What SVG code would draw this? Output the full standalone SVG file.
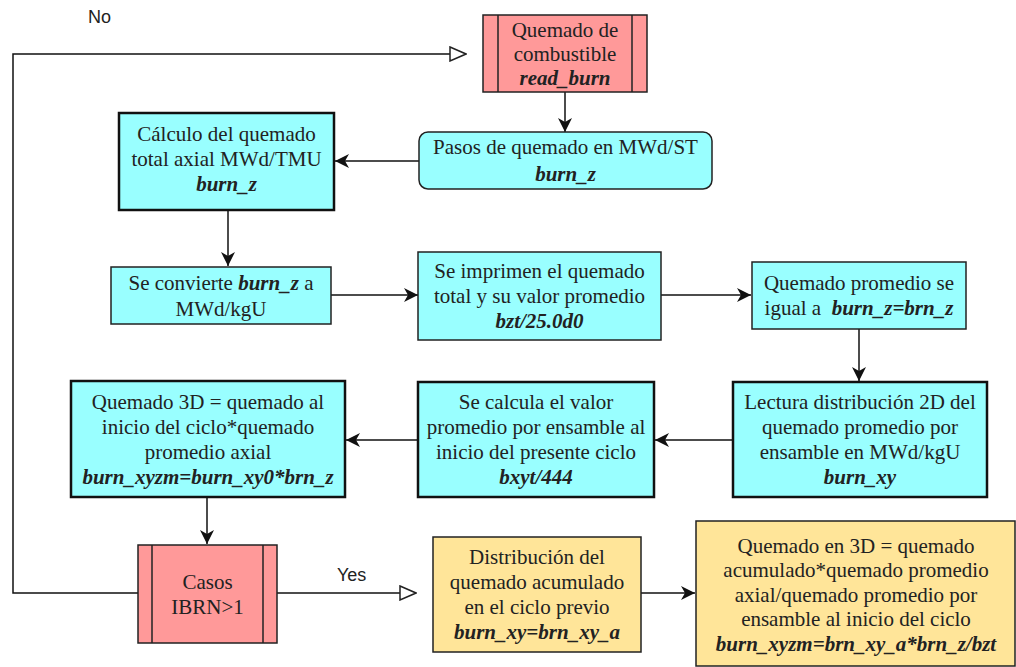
<svg xmlns="http://www.w3.org/2000/svg" width="1016" height="667" viewBox="0 0 1016 667">
<style>
.t{font-family:"Liberation Serif","Times New Roman",serif;font-size:21px;fill:#222;text-anchor:middle}
.b{font-weight:bold;font-style:italic}
.lbl{font-family:"Liberation Sans",Arial,sans-serif;font-size:18px;fill:#222}
.cy{fill:#99FFFF;stroke:#222;stroke-width:1.5}
.cyk{fill:#99FFFF;stroke:#111;stroke-width:2.5}
.pk{fill:#FF9999;stroke:#222;stroke-width:1.5}
.ye{fill:#FFE599;stroke:#222;stroke-width:1.5}
.ln{fill:none;stroke:#222;stroke-width:1.5}
.c{fill:none;stroke:#111;stroke-width:1.5}
</style>
<defs>
<marker id="arr" viewBox="0 0 14 14" refX="14" refY="7" markerWidth="14" markerHeight="14" markerUnits="userSpaceOnUse" orient="auto">
<path d="M0,0 L14,7 L0,14 L4,7 Z" fill="#111"/>
</marker>
<marker id="hol" viewBox="0 0 18 16" refX="17" refY="8" markerWidth="18" markerHeight="16" markerUnits="userSpaceOnUse" orient="auto">
<path d="M1,1 L17,8 L1,15 Z" fill="#fff" stroke="#222" stroke-width="1.5"/>
</marker>
</defs>

<g id="connectors">
<polyline class="c" points="138,593 13,593 13,54 466,54" marker-end="url(#hol)"/>
<line class="c" x1="565" y1="92" x2="565" y2="132" marker-end="url(#arr)"/>
<line class="c" x1="419" y1="161" x2="335" y2="161" marker-end="url(#arr)"/>
<line class="c" x1="228" y1="210" x2="228" y2="266" marker-end="url(#arr)"/>
<line class="c" x1="331" y1="295" x2="418" y2="295" marker-end="url(#arr)"/>
<line class="c" x1="661" y1="295" x2="751" y2="295" marker-end="url(#arr)"/>
<line class="c" x1="859" y1="329" x2="859" y2="381" marker-end="url(#arr)"/>
<line class="c" x1="733" y1="440" x2="655" y2="440" marker-end="url(#arr)"/>
<line class="c" x1="418" y1="440" x2="346" y2="440" marker-end="url(#arr)"/>
<line class="c" x1="207" y1="497" x2="207" y2="544" marker-end="url(#arr)"/>
<line class="c" x1="277" y1="593" x2="416" y2="593" marker-end="url(#hol)"/>
<line class="c" x1="641" y1="593" x2="695" y2="593" marker-end="url(#arr)"/>
<text class="lbl" x="88" y="23">No</text>
<text class="lbl" x="337" y="581">Yes</text>
</g>

<g id="n1">
<rect class="pk" x="483" y="15" width="164" height="77"/>
<line class="ln" x1="498" y1="15" x2="498" y2="92"/>
<line class="ln" x1="632" y1="15" x2="632" y2="92"/>
<text class="t" x="565" y="37">Quemado de</text>
<text class="t" x="565" y="61">combustible</text>
<text class="t b" x="565" y="85">read_burn</text>
</g>

<g id="n2">
<rect class="cy" x="419" y="132" width="293" height="57" rx="9"/>
<text class="t" x="565.5" y="154">Pasos de quemado en MWd/ST</text>
<text class="t b" x="565.5" y="181">burn_z</text>
</g>

<g id="n3">
<rect class="cyk" x="119" y="113" width="215" height="97"/>
<text class="t" x="226.5" y="141">Cálculo del quemado</text>
<text class="t" x="226.5" y="166">total axial MWd/TMU</text>
<text class="t b" x="226.5" y="191">burn_z</text>
</g>

<g id="n4">
<rect class="cy" x="111" y="267" width="220" height="57"/>
<text class="t" x="221" y="290">Se convierte <tspan class="b">burn_z</tspan> a</text>
<text class="t" x="221" y="316">MWd/kgU</text>
</g>

<g id="n5">
<rect class="cy" x="418" y="252" width="243" height="88"/>
<text class="t" x="539.5" y="278">Se imprimen el quemado</text>
<text class="t" x="539.5" y="303">total y su valor promedio</text>
<text class="t b" x="539.5" y="328">bzt/25.0d0</text>
</g>

<g id="n6">
<rect class="cy" x="752" y="262" width="214" height="67"/>
<text class="t" x="859" y="290">Quemado promedio se</text>
<text class="t" x="859" y="315">igual a&#160; <tspan class="b">burn_z=brn_z</tspan></text>
</g>

<g id="n7">
<rect class="cyk" x="733" y="382" width="254" height="115"/>
<text class="t" x="860" y="409">Lectura distribución 2D del</text>
<text class="t" x="860" y="434">quemado promedio por</text>
<text class="t" x="860" y="459">ensamble en MWd/kgU</text>
<text class="t b" x="860" y="484">burn_xy</text>
</g>

<g id="n8">
<rect class="cyk" x="418" y="382" width="236" height="115"/>
<text class="t" x="536" y="409">Se calcula el valor</text>
<text class="t" x="536" y="434">promedio por ensamble al</text>
<text class="t" x="536" y="459">inicio del presente ciclo</text>
<text class="t b" x="536" y="484">bxyt/444</text>
</g>

<g id="n9">
<rect class="cyk" x="71" y="381" width="274" height="116"/>
<text class="t" x="208" y="409">Quemado 3D = quemado al</text>
<text class="t" x="208" y="434">inicio del ciclo*quemado</text>
<text class="t" x="208" y="459">promedio axial</text>
<text class="t b" x="208" y="484">burn_xyzm=burn_xy0*brn_z</text>
</g>

<g id="n10">
<rect class="pk" x="138" y="545" width="139" height="98"/>
<line class="ln" x1="152" y1="545" x2="152" y2="643"/>
<line class="ln" x1="263" y1="545" x2="263" y2="643"/>
<text class="t" x="207.5" y="589">Casos</text>
<text class="t" x="207.5" y="614">IBRN&gt;1</text>
</g>

<g id="n11">
<rect class="ye" x="433" y="537" width="208" height="115"/>
<text class="t" x="537" y="564">Distribución del</text>
<text class="t" x="537" y="589">quemado acumulado</text>
<text class="t" x="537" y="614">en el ciclo previo</text>
<text class="t b" x="537" y="639">burn_xy=brn_xy_a</text>
</g>

<g id="n12">
<rect class="ye" x="696" y="521" width="319" height="145"/>
<text class="t" x="856" y="553">Quemado en 3D = quemado</text>
<text class="t" x="856" y="577">acumulado*quemado promedio</text>
<text class="t" x="856" y="602">axial/quemado promedio por</text>
<text class="t" x="856" y="626">ensamble al inicio del ciclo</text>
<text class="t b" x="856" y="651">burn_xyzm=brn_xy_a*brn_z/bzt</text>
</g>
</svg>
